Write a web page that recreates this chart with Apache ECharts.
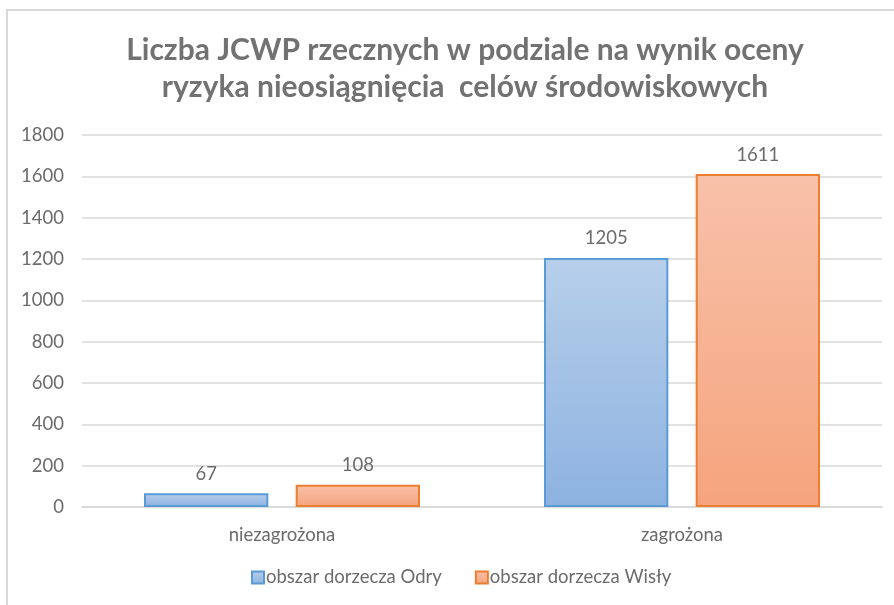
<!DOCTYPE html>
<html>
<head>
    <meta charset="utf-8">
    <title>Liczba JCWP rzecznych</title>
    <script src="https://cdn.jsdelivr.net/npm/echarts@6/dist/echarts.min.js"></script>
    <style>
        html, body { margin: 0; padding: 0; background: #fff; }
        #main { width: 894px; height: 605px; }
    </style>
</head>
<body>
    <div id="main"></div>
    <script type="text/javascript">
        // dane
        var categories = ['niezagrożona', 'zagrożona'];
        var odra = [67, 1205];
        var wisla = [108, 1611];
        var seriesNames = ['obszar dorzecza Odry', 'obszar dorzecza Wisły'];

        var font = 'Lato, "Open Sans", sans-serif';
        var textColor = '#6b6b6b';

        function grad(top, bottom) {
            return new echarts.graphic.LinearGradient(0, 0, 0, 1, [
                { offset: 0, color: top },
                { offset: 1, color: bottom }
            ]);
        }

        var myChart = echarts.init(document.getElementById('main'));

        var option = {
            backgroundColor: '#fff',
            animation: false,
            title: {
                text: 'Liczba JCWP rzecznych w podziale na wynik oceny\nryzyka nieosiągnięcia  celów środowiskowych',
                left: 460,
                textAlign: 'center',
                top: 27,
                textStyle: {
                    fontFamily: font,
                    fontSize: 30,
                    fontWeight: 'bold',
                    color: '#727272',
                    lineHeight: 37
                }
            },
            graphic: [{
                type: 'polyline',
                shape: { points: [[7, 605], [7, 10], [894, 10]] },
                style: { stroke: '#d9d9d9', lineWidth: 2, fill: null }
            }],
            legend: {
                bottom: 13,
                left: 246,
                itemWidth: 12,
                itemHeight: 12,
                itemGap: 33,
                icon: 'rect',
                textStyle: { fontFamily: font, fontSize: 18.5, color: textColor, padding: [0, 0, 0, -3] },
                data: seriesNames
            },
            grid: { left: 82, right: 12, top: 135, bottom: 98 },
            xAxis: {
                type: 'category',
                data: categories,
                axisLine: { lineStyle: { color: '#d9d9d9', width: 1.5 } },
                axisTick: { show: false },
                axisLabel: { fontFamily: font, fontSize: 18.5, color: textColor, margin: 19 }
            },
            yAxis: {
                type: 'value',
                min: 0,
                max: 1800,
                interval: 200,
                axisLine: { show: false },
                axisTick: { show: false },
                axisLabel: {
                    fontFamily: font, fontSize: 18.5, color: textColor, margin: 18,
                    formatter: function (v) { return String(v); }
                },
                splitLine: { lineStyle: { color: '#d9d9d9', width: 1.5 } }
            },
            series: [{
                name: seriesNames[0],
                type: 'bar',
                data: odra,
                barGap: '22%',
                barCategoryGap: '31%',
                itemStyle: {
                    color: grad('#b7cfea', '#8db2e0'),
                    borderColor: '#5b9bd5',
                    borderWidth: 2
                },
                label: {
                    show: true, position: 'top', distance: 10,
                    fontFamily: font, fontSize: 18.5, color: textColor
                }
            }, {
                name: seriesNames[1],
                type: 'bar',
                data: wisla,
                itemStyle: {
                    color: grad('#f8c1a9', '#f5a47d'),
                    borderColor: '#ed7d31',
                    borderWidth: 2
                },
                label: {
                    show: true, position: 'top', distance: 10,
                    fontFamily: font, fontSize: 18.5, color: textColor
                }
            }]
        };

        myChart.setOption(option);
    </script>
</body>
</html>
